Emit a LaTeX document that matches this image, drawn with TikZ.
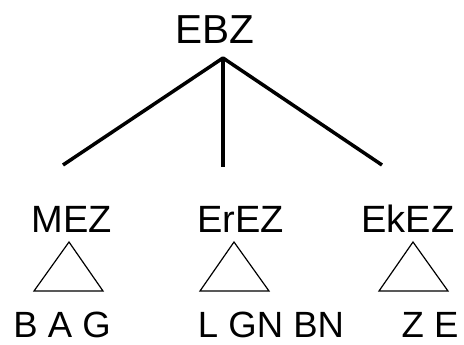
\documentclass[tikz,border=0pt]{standalone}
\usepackage{fontspec}
\setmainfont{Liberation Sans}
\usetikzlibrary{arrows.meta, shapes}

\begin{document}
\begin{tikzpicture}[x=1pt, y=-1pt,
        lbl/.style={inner sep=0pt, anchor=base},
        branch/.style={line width=3.5pt},
        tri/.style={line width=1.2pt, line join=miter}]
        \useasboundingbox (0,0) rectangle (464,345);

        % root and its daughters
        \node[lbl, font=\fontsize{40.5}{44}\selectfont] (ebz) at (214.5, 44) {EBZ};
        \node[lbl, font=\fontsize{38}{42}\selectfont] (mez) at (72, 232) {MEZ};
        \node[lbl, font=\fontsize{38}{42}\selectfont] (erez) at (240.5, 232) {ErEZ};
        \node[lbl, font=\fontsize{38}{42}\selectfont] (ekez) at (408, 232) {EkEZ};

        % leaves under the triangles
        \node[lbl, font=\fontsize{36.5}{40}\selectfont] (bag) at (62, 337) {B A G};
        \node[lbl, font=\fontsize{36.5}{40}\selectfont] (lgnbn) at (271, 337) {L GN BN};
        \node[lbl, font=\fontsize{36.5}{40}\selectfont] (ze) at (430, 337) {Z E};

        \coordinate (top) at (223, 58);
        \coordinate (mtop) at (63, 165);
        \coordinate (rtop) at (223, 167);
        \coordinate (ktop) at (382, 165);

        \draw[branch, line join=round] (mtop) -- (top) -- (ktop);
        \draw[branch] (top) -- (rtop);

        % collapsed subtrees
        \draw[tri] (69, 242) -- (34, 291) -- (103, 291) -- cycle;
        \draw[tri] (234, 242) -- (200, 291) -- (269, 291) -- cycle;
        \draw[tri] (413, 242) -- (379, 291) -- (448, 291) -- cycle;
    \end{tikzpicture}
\end{document}
